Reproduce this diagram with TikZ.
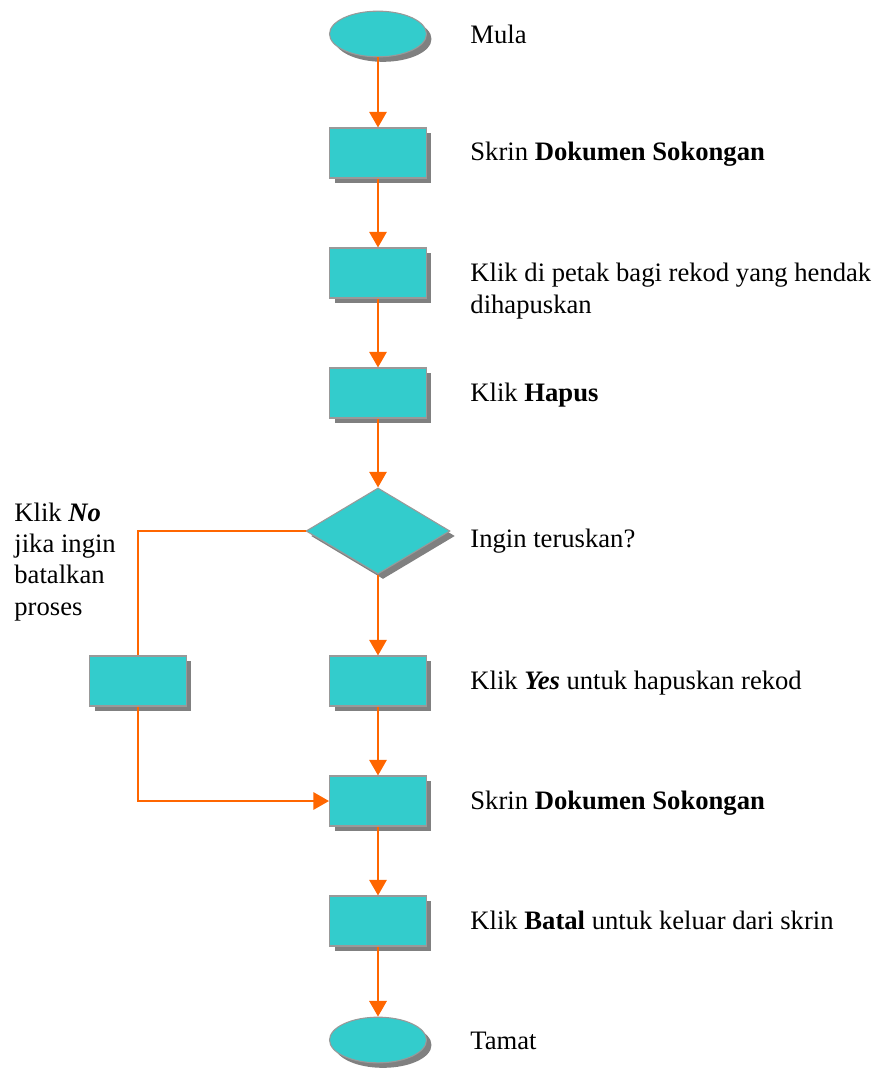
\documentclass[tikz,border=0pt]{standalone}
\usepackage{fontspec}
\setmainfont{Liberation Serif}
\usetikzlibrary{arrows.meta,shapes.geometric,shadows}
\definecolor{tealfill}{HTML}{33CCCC}
\definecolor{edgegray}{HTML}{999999}
\definecolor{shadowgray}{HTML}{808080}
\definecolor{floworange}{HTML}{FF6600}
\begin{document}
\begin{tikzpicture}[x=0.46pt,y=-0.46pt,
        box/.style={draw=edgegray,line width=0.5pt,fill=tealfill,minimum width=44.6pt,minimum height=23pt,inner sep=0pt,
            drop shadow={shadow xshift=2.3pt,shadow yshift=-2.3pt,fill=shadowgray,opacity=1}},
        term/.style={box,ellipse,minimum height=21pt},
        dec/.style={box,diamond,minimum width=66.2pt,minimum height=39.6pt},
        lbl/.style={anchor=base west,inner sep=0pt,align=left,font=\fontsize{12.25}{14.3}\selectfont},
        flow/.style={draw=floworange,line width=0.9pt},
        tip/.style={flow,-{Triangle[length=7.2pt,width=8pt]}}]
    \useasboundingbox (0,0) rectangle (875,1068);
    % main column
    \node[term] (mula) at (378,34) {};
    \node[box] (skrin) at (378,153) {};
    \node[box] (petak) at (378,273) {};
    \node[box] (hapus) at (378,393) {};
    \node[dec] (soal) at (378,531) {};
    \node[box] (yes) at (378,681) {};
    \node[box] (no) at (138,681) {};
    \node[box] (skrinb) at (378,801) {};
    \node[box] (batal) at (378,921) {};
    \node[term] (tamat) at (378,1040) {};
    % labels (base = last line)
    \node[lbl] (tmula) at (470,44) {Mula};
    \node[lbl] (tskrin) at (470,161) {Skrin \textbf{Dokumen Sokongan}};
    \node[lbl] (tpetak) at (470,313) {Klik di petak bagi rekod yang hendak\\dihapuskan};
    \node[lbl] (thapus) at (470,401) {Klik \textbf{Hapus}};
    \node[lbl] (tsoal) at (470,547) {Ingin teruskan?};
    \node[lbl] (tno) at (14,615) {Klik \textbf{\textit{No}}\\jika ingin\\batalkan\\proses};
    \node[lbl] (tyes) at (470,689) {Klik \textbf{\textit{Yes}} untuk hapuskan rekod};
    \node[lbl] (tskrinb) at (470,809) {Skrin \textbf{Dokumen Sokongan}};
    \node[lbl] (tbatal) at (470,929) {Klik \textbf{Batal} untuk keluar dari skrin};
    \node[lbl] (ttamat) at (470,1049) {Tamat};
    % connectors
    \draw[tip] (mula) -- (skrin);
    \draw[tip] (skrin) -- (petak);
    \draw[tip] (petak) -- (hapus);
    \draw[tip] (hapus) -- (soal);
    \draw[tip] (soal) -- (yes);
    \draw[tip] (yes) -- (skrinb);
    \draw[tip] (skrinb) -- (batal);
    \draw[tip] (batal) -- (tamat);
    \draw[flow] (soal.west) -| (no.north);
    \draw[tip] (no.south) |- (skrinb.west);
\end{tikzpicture}
\end{document}
